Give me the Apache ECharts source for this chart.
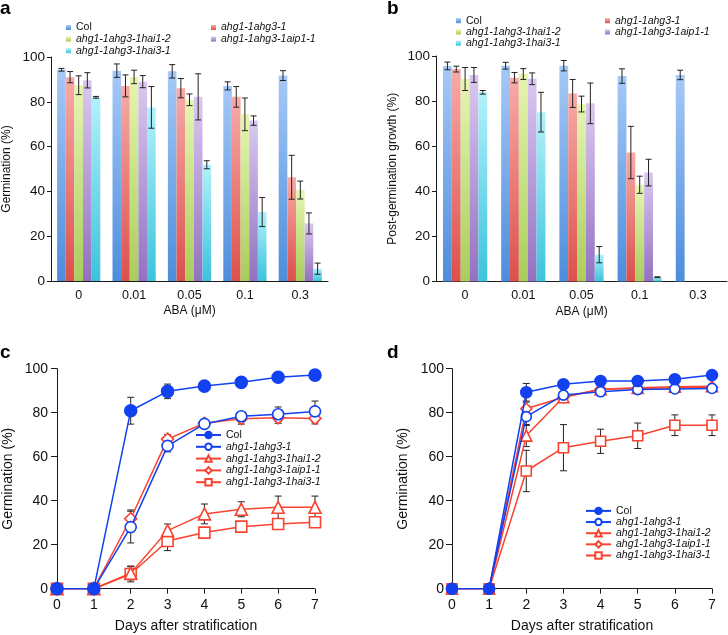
<!DOCTYPE html>
<html><head><meta charset="utf-8">
<script src="https://cdn.jsdelivr.net/npm/echarts@6/dist/echarts.min.js"></script>
<style>html,body{margin:0;padding:0;background:#fff}#c{width:728px;height:635px}</style>
</head><body><div id="c"></div>
<script>
// ---------- data ----------
const abaLevels = ['0', '0.01', '0.05', '0.1', '0.3'];
const genotypes = ['Col', 'ahg1-1ahg3-1', 'ahg1-1ahg3-1hai1-2', 'ahg1-1ahg3-1aip1-1', 'ahg1-1ahg3-1hai3-1'];

// panel a: germination (%)
const aCol   = [94.3, 93.9, 93.6, 87.1, 91.7];
const aAhg   = [91.0, 87.1, 86.1, 82.2, 46.3];
const aHai1  = [87.4, 91.1, 80.9, 74.4, 40.6];
const aAip1  = [89.6, 89.0, 82.2, 71.6, 25.7];
const aHai3  = [82.0, 77.5, 51.9, 30.8, 5.5];
const aColErr  = [0.6, 3.0, 3.0, 1.8, 2.2];
const aAhgErr  = [2.5, 4.9, 4.3, 4.6, 9.8];
const aHai1Err = [4.2, 3.0, 2.6, 7.3, 4.0];
const aAip1Err = [3.4, 2.7, 10.3, 2.1, 4.7];
const aHai3Err = [0.4, 9.3, 1.8, 6.5, 2.5];

// panel b: post-germination growth (%)
const bCol   = [95.6, 95.7, 95.7, 91.1, 91.6];
const bAhg   = [94.2, 90.4, 83.4, 57.2, 0];
const bHai1  = [89.8, 92.0, 78.7, 42.9, 0];
const bAip1  = [91.6, 89.9, 79.0, 48.3, 0];
const bHai3  = [83.9, 75.1, 11.9, 1.9, 0];
const bColErr  = [1.7, 1.5, 2.3, 3.2, 2.1];
const bAhgErr  = [1.3, 2.3, 6.2, 11.6, 0];
const bHai1Err = [5.1, 2.4, 3.5, 3.8, 0];
const bAip1Err = [3.3, 2.6, 9.0, 5.9, 0];
const bHai3Err = [0.8, 8.8, 3.6, 0.2, 0];

// panels c, d: germination time course
const days = [0, 1, 2, 3, 4, 5, 6, 7];
const cCol   = [0, 0, 80.9, 89.7, 92.1, 93.8, 96.1, 97.1];
const cAhg   = [0, 0, 28.0, 64.9, 74.9, 78.4, 79.3, 80.6];
const cHai1  = [0, 0, 7.0, 26.4, 34.0, 36.1, 37.0, 37.0];
const cAip1  = [0, 0, 31.8, 68.0, 75.2, 77.3, 77.7, 77.4];
const cHai3  = [0, 0, 6.7, 21.7, 25.5, 28.2, 29.4, 30.2];
const cColErr  = [0, 0, 6.1, 3.3, 0.8, 0.8, 0.8, 0.8];
const cAhgErr  = [0, 0, 7.2, 2.7, 1.5, 1.7, 3.3, 4.7];
const cHai1Err = [0, 0, 3.0, 3.0, 4.5, 3.4, 5.1, 5.1];
const cAip1Err = [0, 0, 4.0, 2.0, 1.5, 2.5, 2.5, 2.5];
const cHai3Err = [0, 0, 3.6, 4.4, 1.5, 1.5, 1.5, 1.5];

const dCol   = [0, 0, 89.3, 92.9, 94.4, 94.4, 95.2, 97.1];
const dAhg   = [0, 0, 78.2, 88.0, 89.5, 90.5, 90.8, 91.0];
const dHai1  = [0, 0, 69.6, 87.0, 90.7, 91.3, 91.8, 92.0];
const dAip1  = [0, 0, 81.8, 87.0, 90.7, 91.0, 91.3, 91.5];
const dHai3  = [0, 0, 53.5, 64.1, 67.0, 69.5, 74.3, 74.3];
const dColErr  = [0, 0, 4.0, 1.0, 1.0, 1.0, 1.0, 1.0];
const dAhgErr  = [0, 0, 4.0, 1.5, 1.0, 1.0, 1.0, 1.0];
const dHai1Err = [0, 0, 5.0, 2.0, 1.0, 1.0, 1.0, 1.0];
const dAip1Err = [0, 0, 3.0, 2.0, 1.0, 1.0, 1.0, 1.0];
const dHai3Err = [0, 0, 9.4, 10.5, 5.5, 5.8, 4.7, 4.7];

// ---------- styling ----------
const FONT = '"Liberation Sans", Arial, Helvetica, sans-serif';
const AX = '#1a1a1a';
const barGrad = [
  ['#a6c9f6', '#4d8ddc'],
  ['#f7aba7', '#dc504b'],
  ['#e6f5b2', '#a9cd5c'],
  ['#dac8f0', '#9371c0'],
  ['#b2f1fb', '#3cc3dc']
];
const BLUE = '#1241f0', RED = '#f7432f';

function grad(c) {
  return new echarts.graphic.LinearGradient(0, 0, 0, 1, [{offset: 0, color: c[0]}, {offset: 1, color: c[1]}]);
}
function legendFmt(name) {
  const n = name.slice(2);
  return n === 'Col' ? '{n|' + n + '}' : '{i|' + n + '}';
}
function legendText(fs, lh) {
  return {fontFamily: FONT, fontSize: fs, color: '#111', lineHeight: lh,
    rich: {n: {fontFamily: FONT, fontSize: fs, lineHeight: lh, color: '#111'},
           i: {fontFamily: FONT, fontSize: fs, lineHeight: lh, fontStyle: 'italic', color: '#111'}}};
}

const grids = [
  {left: 50, top: 57, width: 278, height: 224},
  {left: 436, top: 56, width: 291, height: 225.5},
  {left: 56, top: 368.7, width: 259, height: 220},
  {left: 452, top: 368.7, width: 260, height: 220}
];

function catAxis(gi, nameGap) {
  return {type: 'category', gridIndex: gi, data: abaLevels,
    name: 'ABA (\u03bcM)', nameLocation: 'middle', nameGap: nameGap,
    nameTextStyle: {fontFamily: FONT, fontSize: 12, color: '#111'},
    axisLine: {lineStyle: {color: AX, width: 1}},
    axisTick: {length: 4, lineStyle: {color: AX}},
    axisLabel: {fontFamily: FONT, fontSize: 12.5, color: '#111', margin: 8}};
}
function valAxisY(gi, name, fs, lfs, gap, margin, tick) {
  return {type: 'value', gridIndex: gi, min: 0, max: 100, interval: 20,
    name: name, nameLocation: 'middle', nameGap: gap,
    nameTextStyle: {fontFamily: FONT, fontSize: fs, color: '#111'},
    axisLine: {show: true, lineStyle: {color: AX, width: 1}},
    axisTick: {show: true, length: tick, lineStyle: {color: AX}},
    axisLabel: {fontFamily: FONT, fontSize: lfs, color: '#111', margin: margin},
    splitLine: {show: false}};
}
function dayAxis(gi) {
  return {type: 'value', gridIndex: gi, min: 0, max: 7, interval: 1,
    name: 'Days after stratification', nameLocation: 'middle', nameGap: 30,
    nameTextStyle: {fontFamily: FONT, fontSize: 14, color: '#111'},
    axisLine: {show: true, onZero: false, lineStyle: {color: AX, width: 1}},
    axisTick: {show: true, length: 5, lineStyle: {color: AX}},
    axisLabel: {fontFamily: FONT, fontSize: 14, color: '#111', margin: 9},
    splitLine: {show: false}};
}

const series = [];
function addBars(panel, gi, vals, errs, gap) {
  vals.forEach((v, k) => {
    series.push({type: 'bar', name: panel + ':' + genotypes[k], xAxisIndex: gi, yAxisIndex: gi,
      data: v, barGap: '0%', barCategoryGap: gap, itemStyle: {color: grad(barGrad[k])}, z: 2,
      emphasis: {disabled: true}});
  });
  const gapF = parseFloat(gap) / 100;
  vals.forEach((v, k) => {
    series.push({type: 'custom', xAxisIndex: gi, yAxisIndex: gi, z: 5, silent: true,
      data: v.map((val, i) => [i, val, errs[k][i]]),
      encode: {x: 0, y: 1},
      renderItem: (params, api) => {
        const ci = api.value(0), val = api.value(1), e = api.value(2);
        if (!e) return;
        const catW = api.size([1, 0])[0];
        const bw = catW * (1 - gapF) / 5;
        const c = api.coord([ci, val]);
        const x = c[0] + (k - 2) * bw;
        const yt = api.coord([ci, val + e])[1], yb = api.coord([ci, val - e])[1];
        const h = 3, st = {stroke: '#222', lineWidth: 1};
        return {type: 'group', children: [
          {type: 'line', shape: {x1: x, y1: yt, x2: x, y2: yb}, style: st},
          {type: 'line', shape: {x1: x - h, y1: yt, x2: x + h, y2: yt}, style: st},
          {type: 'line', shape: {x1: x - h, y1: yb, x2: x + h, y2: yb}, style: st}
        ]};
      }});
  });
}
addBars('a', 0, [aCol, aAhg, aHai1, aAip1, aHai3], [aColErr, aAhgErr, aHai1Err, aAip1Err, aHai3Err], '22%');
addBars('b', 1, [bCol, bAhg, bHai1, bAip1, bHai3], [bColErr, bAhgErr, bHai1Err, bAip1Err, bHai3Err], '24%');

function addLines(panel, gi, vals, errs, sz) {
  const syms = [
    {symbol: 'circle', size: sz + 1, color: BLUE, fill: BLUE},
    {symbol: 'circle', size: sz, color: BLUE, fill: '#fff'},
    {symbol: 'triangle', size: sz + 1, color: RED, fill: '#fff'},
    {symbol: 'diamond', size: sz + 1, color: RED, fill: '#fff'},
    {symbol: 'rect', size: sz, color: RED, fill: '#fff'}
  ];
  vals.forEach((v, k) => {
    series.push({type: 'custom', xAxisIndex: gi, yAxisIndex: gi, z: 1, silent: true,
      data: v.map((val, i) => [days[i], val, errs[k][i]]),
      encode: {x: 0, y: 1},
      renderItem: (params, api) => {
        const d = api.value(0), val = api.value(1), e = api.value(2);
        if (!e) return;
        const x = api.coord([d, val])[0];
        const yt = api.coord([d, val + e])[1], yb = api.coord([d, val - e])[1];
        const h = 3.5, st = {stroke: '#222', lineWidth: 1};
        return {type: 'group', children: [
          {type: 'line', shape: {x1: x, y1: yt, x2: x, y2: yb}, style: st},
          {type: 'line', shape: {x1: x - h, y1: yt, x2: x + h, y2: yt}, style: st},
          {type: 'line', shape: {x1: x - h, y1: yb, x2: x + h, y2: yb}, style: st}
        ]};
      }});
  });
  vals.forEach((v, k) => {
    const s = syms[k];
    series.push({type: 'line', name: panel + ':' + genotypes[k], xAxisIndex: gi, yAxisIndex: gi,
      data: v.map((val, i) => [days[i], val]), symbol: s.symbol, symbolSize: s.size, showSymbol: true,
      lineStyle: {color: s.color, width: 1.5},
      itemStyle: {color: s.fill, borderColor: s.color, borderWidth: 1.6},
      z: 3 + (4 - k), emphasis: {disabled: true}, animation: false});
  });
}
addLines('c', 2, [cCol, cAhg, cHai1, cAip1, cHai3], [cColErr, cAhgErr, cHai1Err, cAip1Err, cHai3Err], 11);
addLines('d', 3, [dCol, dAhg, dHai1, dAip1, dHai3], [dColErr, dAhgErr, dHai1Err, dAip1Err, dHai3Err], 10);

const barLegend = (panel, names, left, top, lh, gap) => ({
  data: names.map(n => panel + ':' + n), orient: 'vertical', left: left, top: top,
  icon: 'rect', itemWidth: 5, itemHeight: 5, itemGap: gap, padding: 0, selectedMode: false,
  formatter: legendFmt, textStyle: legendText(10.5, lh)});
const lineLegend = (panel, left, top, lh, gap) => ({
  data: genotypes.map(n => panel + ':' + n), orient: 'vertical', left: left, top: top,
  itemWidth: 25, itemHeight: 8, itemGap: gap, padding: 0, selectedMode: false,
  formatter: legendFmt, textStyle: legendText(10.5, lh)});

const option = {
  animation: false,
  backgroundColor: '#fff',
  grid: grids,
  xAxis: [catAxis(0, 24), catAxis(1, 24), dayAxis(2), dayAxis(3)],
  yAxis: [
    valAxisY(0, 'Germination (%)', 12, 13.5, 38, 6, 4),
    valAxisY(1, 'Post-germination growth (%)', 12, 13.5, 37, 6, 4),
    valAxisY(2, 'Germination (%)', 14, 14, 42, 9, 6),
    valAxisY(3, 'Germination (%)', 14, 14, 42, 8, 6)
  ],
  legend: [
    barLegend('a', [genotypes[0], genotypes[2], genotypes[4]], 66, 22, 11, 0.6),
    barLegend('a', [genotypes[1], genotypes[3]], 211, 22, 11, 0.6),
    barLegend('b', [genotypes[0], genotypes[2], genotypes[4]], 456, 15.2, 10.5, 0.25),
    barLegend('b', [genotypes[1], genotypes[3]], 605, 15.2, 10.5, 0.25),
    lineLegend('c', 195, 429.5, 11, 0.8),
    lineLegend('d', 585, 505.4, 10.5, 0.15)
  ],
  graphic: [
    {type: 'text', left: 0, top: -1, style: {text: 'a', font: 'bold 19px ' + FONT, fill: '#000'}},
    {type: 'text', left: 387, top: -1, style: {text: 'b', font: 'bold 19px ' + FONT, fill: '#000'}},
    {type: 'text', left: 0, top: 343, style: {text: 'c', font: 'bold 19px ' + FONT, fill: '#000'}},
    {type: 'text', left: 387, top: 343, style: {text: 'd', font: 'bold 19px ' + FONT, fill: '#000'}}
  ],
  series: series
};
const chart = echarts.init(document.getElementById('c'), null, {renderer: 'canvas'});
chart.setOption(option);
</script></body></html>
